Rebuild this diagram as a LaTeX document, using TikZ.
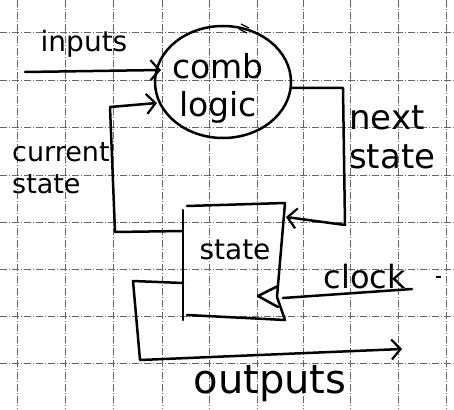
\documentclass[tikz,border=0pt]{standalone}
\usepackage{fontspec}
\setsansfont{DejaVu Sans}
\usetikzlibrary{shapes.geometric,arrows.meta}
\begin{document}
\begin{tikzpicture}[x=1pt,y=-1pt,
  pen/.style={line width=2.5pt,line cap=round,line join=round},
  gridline/.style={line width=0.6pt,black!60,dash pattern=on 7pt off 2pt on 1pt off 2pt},
  tip/.style={-{Straight Barb[length=9pt,width=20pt,line width=2.2pt]}},
  lbl/.style={inner sep=0pt,font=\sffamily\fontsize{#1}{#1}\selectfont},
]
\useasboundingbox (0,0) rectangle (454,409);
\fill[white] (0,0) rectangle (454,409);
% grid
\foreach \gx in {17,65,113,162,209,257,303,350,398,446}
  \draw[gridline] (\gx,0) -- (\gx,409);
\foreach \gy in {32,80,127,175,222,269,316,363}
  \draw[gridline] (0,\gy) -- (454,\gy);

% comb logic bubble
\node[pen,draw,ellipse,minimum width=136pt,minimum height=112pt,inner sep=0pt] (comb) at (223,82) {};
\node[inner sep=0pt,align=center,font=\sffamily\fontsize{33}{38}\selectfont] (combt) at (218,88) {comb\\logic};
\draw[line width=1.2pt] (241,24) -- (249,28) (239,29) -- (247,33);

% state register
\coordinate (sTL) at (183,210);
\coordinate (sTL2) at (187,206);
\coordinate (sTR) at (285,203);
\coordinate (sRM) at (277,297);
\coordinate (sBR) at (285,320);
\coordinate (sBL) at (187,315);
\coordinate (sBL2) at (183,320);
\draw[pen] (sTL) -- (sBL2);
\draw[pen] (sTL2) -- (sTR) -- (sRM) -- (sBR) -- (sBL);
\node[lbl=28] (statet) at (235,250) {state};
\draw[pen] (278,286) -- (258,296) -- (278,307);

% inputs
\coordinate (inA) at (25,72);
\coordinate (inB) at (161,70);
\draw[pen,tip] (inA) -- (inB);
\node[lbl=28] (inputs) at (84,44) {inputs};

% current state feedback
\coordinate (cs1) at (183,231);
\coordinate (cs2) at (115,232);
\coordinate (cs3) at (110,107);
\coordinate (cs4) at (157,103);
\draw[pen,tip] (cs1) -- (cs2) -- (cs3) -- (cs4);
\node[inner sep=0pt,align=left,anchor=west,font=\sffamily\fontsize{27}{32}\selectfont] (curr) at (12,168) {current\\state};

% next state
\coordinate (ns1) at (292,88);
\coordinate (ns2) at (343,88);
\coordinate (ns3) at (345,225);
\coordinate (ns4) at (286,217);
\draw[pen,tip] (ns1) -- (ns2) -- (ns3) -- (ns4);
\node[inner sep=0pt,align=left,anchor=west,font=\sffamily\fontsize{34}{39}\selectfont] (next) at (349,137) {next\\state};

% clock
\coordinate (ck1) at (283,298);
\coordinate (ck2) at (412,289);
\draw[pen] (ck1) -- (ck2);
\node[lbl=32] (clock) at (365,277) {clock};
\draw[line width=1.2pt] (436,277) -- (441,277);

% outputs
\coordinate (o1) at (183,283);
\coordinate (o2) at (133,281);
\coordinate (o3) at (140,360);
\coordinate (o4) at (402,349);
\draw[pen,tip] (o1) -- (o2) -- (o3) -- (o4);
\node[lbl=40] (outputs) at (270,384) {outputs};
\end{tikzpicture}
\end{document}
